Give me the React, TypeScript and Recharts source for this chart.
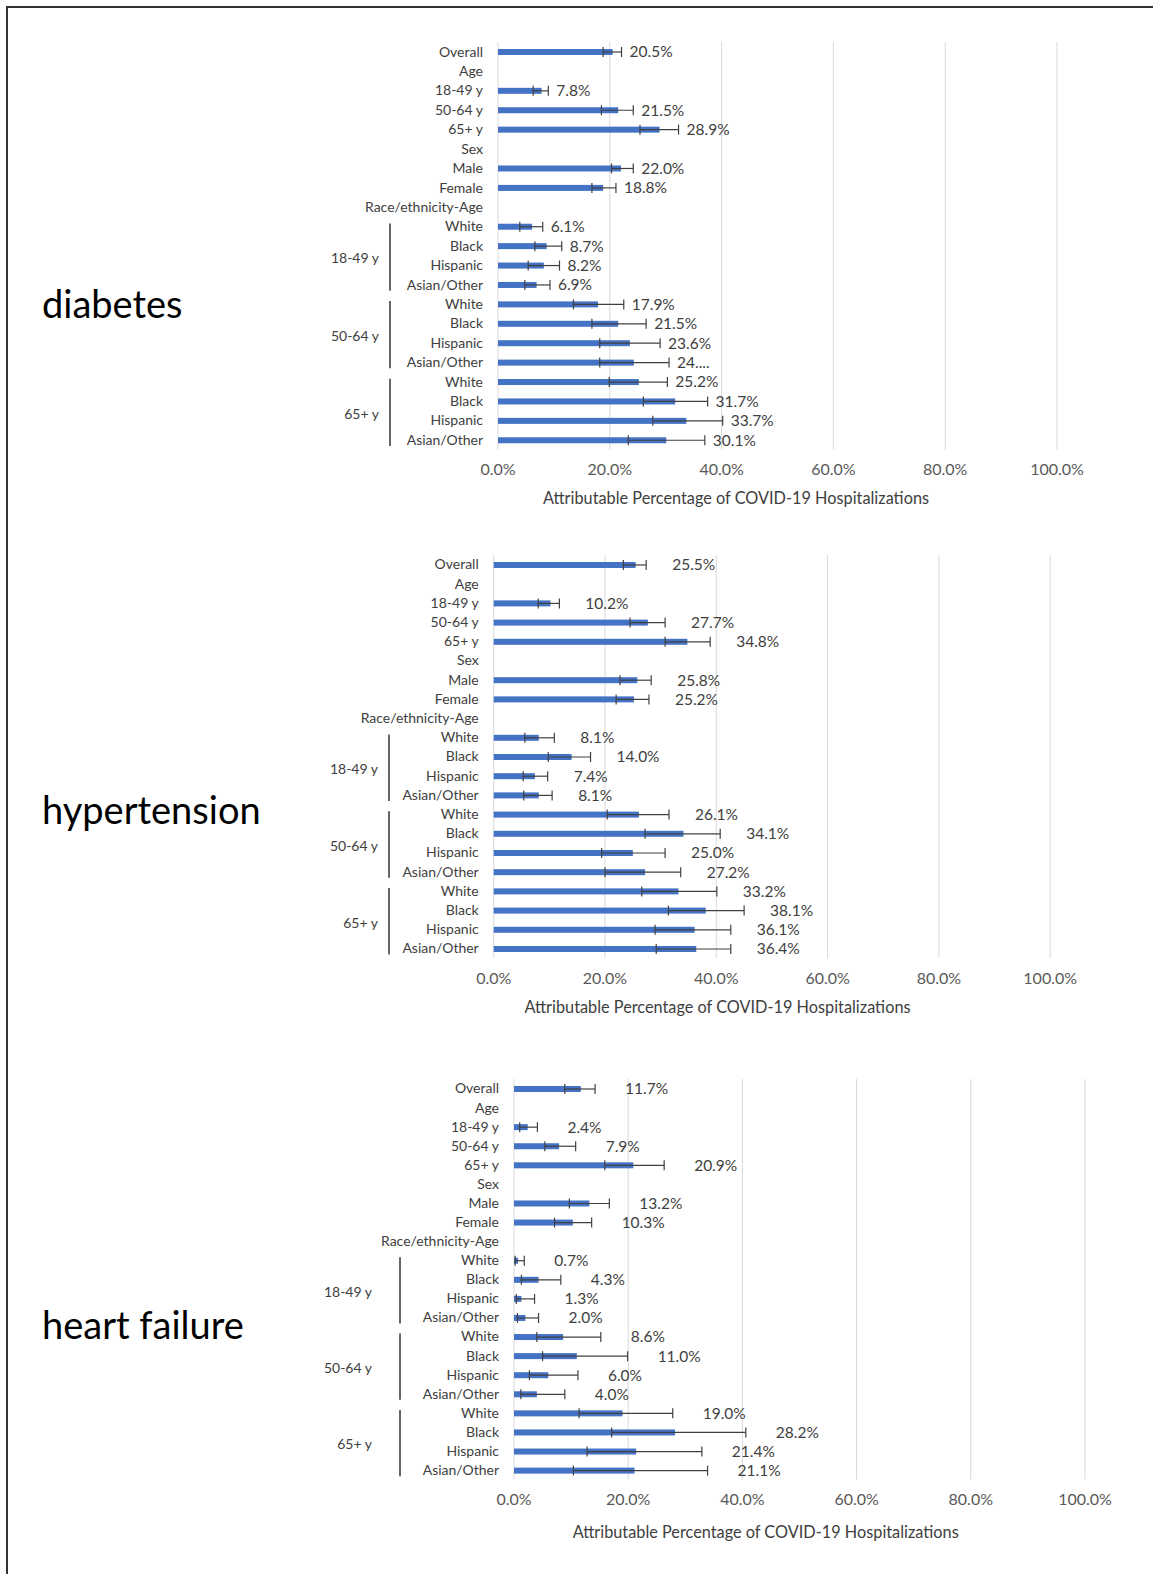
import React from 'react';
import { BarChart, Bar, XAxis, YAxis, CartesianGrid, ErrorBar } from 'recharts';

// rows shared by the three panels
const categories = [
  'Overall', 'Age', '18-49 y', '50-64 y', '65+ y', 'Sex', 'Male', 'Female', 'Race/ethnicity-Age',
  'White', 'Black', 'Hispanic', 'Asian/Other',
  'White', 'Black', 'Hispanic', 'Asian/Other',
  'White', 'Black', 'Hispanic', 'Asian/Other',
];
const groups = [
  '', '', '', '', '', '', '', '', '',
  '18-49 y', '18-49 y', '18-49 y', '18-49 y',
  '50-64 y', '50-64 y', '50-64 y', '50-64 y',
  '65+ y', '65+ y', '65+ y', '65+ y',
];
const xTicks = [0, 20, 40, 60, 80, 100];
const axisTitle = 'Attributable Percentage of COVID-19 Hospitalizations';

// diabetes
const diabetesValues = [20.5, null, 7.8, 21.5, 28.9, null, 22.0, 18.8, null, 6.1, 8.7, 8.2, 6.9, 17.9, 21.5, 23.6, 24.3, 25.2, 31.7, 33.7, 30.1];
const diabetesLower = [18.8, null, 6.3, 18.5, 25.4, null, 20.3, 16.8, null, 3.9, 6.6, 5.4, 4.8, 13.5, 16.8, 18.2, 18.2, 19.9, 26.0, 27.7, 23.3];
const diabetesUpper = [22.1, null, 9.0, 24.2, 32.3, null, 24.2, 21.1, null, 8.0, 11.4, 11.0, 9.3, 22.5, 26.5, 29.0, 30.6, 30.3, 37.5, 40.2, 37.0];
const diabetesLabels = ['20.5%', '', '7.8%', '21.5%', '28.9%', '', '22.0%', '18.8%', '', '6.1%', '8.7%', '8.2%', '6.9%', '17.9%', '21.5%', '23.6%', '24....', '25.2%', '31.7%', '33.7%', '30.1%'];

// hypertension
const hyperValues = [25.5, null, 10.2, 27.7, 34.8, null, 25.8, 25.2, null, 8.1, 14.0, 7.4, 8.1, 26.1, 34.1, 25.0, 27.2, 33.2, 38.1, 36.1, 36.4];
const hyperLower = [23.3, null, 8.0, 24.5, 30.8, null, 22.7, 22.0, null, 5.6, 9.8, 5.3, 5.4, 20.4, 27.2, 19.4, 20.0, 26.6, 31.4, 29.0, 29.2];
const hyperUpper = [27.4, null, 11.8, 30.8, 38.9, null, 28.3, 27.9, null, 10.9, 17.4, 9.7, 10.5, 31.5, 40.7, 30.8, 33.6, 40.1, 45.0, 42.6, 42.6];
const hyperLabels = ['25.5%', '', '10.2%', '27.7%', '34.8%', '', '25.8%', '25.2%', '', '8.1%', '14.0%', '7.4%', '8.1%', '26.1%', '34.1%', '25.0%', '27.2%', '33.2%', '38.1%', '36.1%', '36.4%'];

// heart failure
const hfValues = [11.7, null, 2.4, 7.9, 20.9, null, 13.2, 10.3, null, 0.7, 4.3, 1.3, 2.0, 8.6, 11.0, 6.0, 4.0, 19.0, 28.2, 21.4, 21.1];
const hfLower = [8.9, null, 1.0, 5.4, 15.9, null, 9.7, 7.1, null, 0.2, 1.3, 0.4, 0.6, 4.0, 5.0, 2.7, 1.2, 11.4, 17.1, 12.8, 10.4];
const hfUpper = [14.2, null, 4.1, 10.8, 26.3, null, 16.7, 13.6, null, 1.8, 8.2, 3.6, 4.3, 15.2, 19.9, 11.2, 8.9, 27.8, 40.6, 32.9, 33.9];
const hfLabels = ['11.7%', '', '2.4%', '7.9%', '20.9%', '', '13.2%', '10.3%', '', '0.7%', '4.3%', '1.3%', '2.0%', '8.6%', '11.0%', '6.0%', '4.0%', '19.0%', '28.2%', '21.4%', '21.1%'];

const FONT = 'Lato, "Open Sans", sans-serif';
const BLUE = '#4472C4';
const TEXT = '#404040';

type PanelProps = {
  title: string;
  values: (number | null)[];
  lower: (number | null)[];
  upper: (number | null)[];
  labels: string[];
  top: number;      // plot top
  bottom: number;   // plot bottom
  x0: number;       // x of 0%
  x100: number;     // x of 100%
  labelGap: number;
  bracketX: number;
  groupRight: number;
  titleX: number;
  titleY: number;
  nameY: number;
};

const RowTick = (props: any) => {
  const { y, payload, x0, bracketX, groupRight, band } = props;
  const i = payload.index;
  const g = groups[i];
  let bracket = null;
  if (g && groups[i - 1] !== g) {
    const n = groups.filter((v) => v === g).length;
    bracket = (
      <g>
        <line x1={bracketX} x2={bracketX} y1={y - 3} y2={y + (n - 1) * band + 6} stroke="#333" strokeWidth={1.5} />
        <text x={groupRight} y={y + ((n - 1) * band) / 2 + 3} dy="0.35em" textAnchor="end" fontSize={14} fill={TEXT} fontFamily={FONT}>
          {g}
        </text>
      </g>
    );
  }
  return (
    <g>
      <text x={x0 - 15} y={y} dy="0.35em" textAnchor="end" fontSize={14} fill={TEXT} fontFamily={FONT}>
        {payload.value}
      </text>
      {bracket}
    </g>
  );
};

const Panel = (p: PanelProps) => {
  const data = categories.map((name, i) => {
    const v = p.values[i];
    const lo = p.lower[i];
    const hi = p.upper[i];
    return {
      idx: i,
      name,
      value: v,
      err: v == null || lo == null || hi == null ? null : [v - lo, hi - v],
    };
  });
  const band = (p.bottom - p.top) / categories.length;
  const padTop = 10;
  const height = padTop + (p.bottom - p.top) + 40;

  const BarShape = (s: any) => {
    const { x, y, width, height: h, payload } = s;
    const i = payload ? payload.idx : -1;
    const v = p.values[i];
    const hi = p.upper[i];
    if (v == null || hi == null) return null;
    const upX = x + (width * hi) / v;
    return (
      <g>
        <rect x={x} y={y} width={width} height={h} fill={BLUE} />
        <text x={upX + p.labelGap} y={y + h / 2} dy="0.35em" fontSize={15.5} fill={TEXT} fontFamily={FONT}>
          {p.labels[i]}
        </text>
      </g>
    );
  };

  return (
    <>
      <div style={{ position: 'absolute', left: 0, top: p.top - padTop }}>
        <BarChart
          width={1153}
          height={height}
          data={data}
          layout="vertical"
          margin={{ top: padTop, right: 1153 - p.x100, left: 0, bottom: 0 }}
          style={{ fontFamily: FONT }}
        >
          <CartesianGrid horizontal={false} stroke="#d9d9d9" />
          <XAxis
            type="number"
            domain={[0, 100]}
            ticks={xTicks}
            interval={0}
            tickFormatter={(v: number) => `${v.toFixed(1)}%`}
            axisLine={false}
            tickLine={false}
            tickMargin={8}
            height={40}
            tick={{ fill: '#595959', fontSize: 16, fontFamily: FONT }}
          />
          <YAxis
            type="category"
            dataKey="name"
            width={p.x0}
            interval={0}
            axisLine={false}
            tickLine={false}
            tick={<RowTick x0={p.x0} bracketX={p.bracketX} groupRight={p.groupRight} band={band} />}
          />
          <Bar dataKey="value" barSize={6} fill={BLUE} shape={BarShape} isAnimationActive={false}>
            <ErrorBar dataKey="err" direction="x" width={5} stroke="#404040" strokeWidth={1.2} isAnimationActive={false} />
          </Bar>
        </BarChart>
      </div>
      <div
        style={{
          position: 'absolute',
          left: p.titleX - 300,
          width: 600,
          top: p.titleY - 11,
          textAlign: 'center',
          fontFamily: FONT,
          fontSize: 16.3,
          lineHeight: '22px',
          color: '#404040',
        }}
      >
        {axisTitle}
      </div>
      <div
        style={{
          position: 'absolute',
          left: 42,
          top: p.nameY - 24,
          fontFamily: FONT,
          fontSize: 38,
          lineHeight: '48px',
          color: '#000',
        }}
      >
        {p.title}
      </div>
    </>
  );
};

const App = () => {
  return (
    <div style={{ position: 'absolute', left: 0, top: 0, width: 1153, height: 1574, background: '#fff', overflow: 'hidden' }}>
      <div style={{ position: 'absolute', left: 6, top: 6, right: 0, bottom: 0, borderTop: '2px solid #333', borderLeft: '2px solid #333' }} />
      <Panel
        title="diabetes"
        values={diabetesValues}
        lower={diabetesLower}
        upper={diabetesUpper}
        labels={diabetesLabels}
        top={42}
        bottom={449.7}
        x0={498}
        x100={1057}
        labelGap={8}
        bracketX={390}
        groupRight={379}
        titleX={736}
        titleY={498}
        nameY={303}
      />
      <Panel
        title="hypertension"
        values={hyperValues}
        lower={hyperLower}
        upper={hyperUpper}
        labels={hyperLabels}
        top={554.7}
        bottom={957.9}
        x0={493.7}
        x100={1050.2}
        labelGap={26}
        bracketX={389}
        groupRight={378}
        titleX={717.5}
        titleY={1006.7}
        nameY={809}
      />
      <Panel
        title="heart failure"
        values={hfValues}
        lower={hfLower}
        upper={hfUpper}
        labels={hfLabels}
        top={1078.8}
        bottom={1479.5}
        x0={514}
        x100={1085}
        labelGap={30}
        bracketX={400}
        groupRight={372}
        titleX={765.7}
        titleY={1532}
        nameY={1324}
      />
    </div>
  );
};

export default App;
